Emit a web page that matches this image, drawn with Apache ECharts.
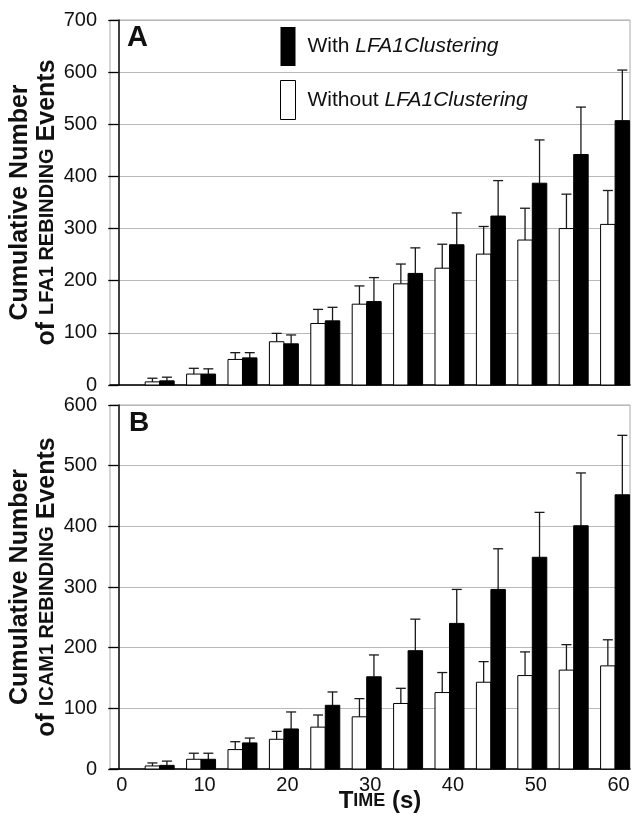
<!DOCTYPE html>
<html>
<head>
<meta charset="utf-8">
<title>Cumulative rebinding events</title>
<script src="https://cdn.jsdelivr.net/npm/echarts@6/dist/echarts.min.js"></script>
<style>
  html, body { margin: 0; padding: 0; background: #fff; }
  #chart { width: 635px; height: 824px; }
</style>
</head>
<body>
<div id="chart"></div>
<script>
// time points (s)
var times = [5, 10, 15, 20, 25, 30, 35, 40, 45, 50, 55, 60];
var xTicks = [0, 10, 20, 30, 40, 50, 60];

// panel A: LFA1 rebinding events (mean, upper error)
var aWithout = [6, 21, 49, 83, 118, 155, 194, 224, 251, 278, 300, 308];
var aWithoutErr = [7, 11, 13, 16, 27, 35, 38, 46, 53, 61, 66, 65];
var aWith = [8, 21, 52, 79, 123, 160, 214, 269, 324, 387, 442, 507];
var aWithErr = [7, 10, 10, 17, 26, 46, 49, 61, 68, 83, 91, 97];

// panel B: ICAM1 rebinding events
var bWithout = [5, 16, 32, 49, 69, 86, 108, 126, 143, 154, 163, 170];
var bWithoutErr = [5, 10, 13, 13, 20, 30, 25, 33, 34, 39, 42, 43];
var bWith = [6, 16, 43, 66, 105, 152, 195, 240, 296, 349, 401, 452];
var bWithErr = [7, 10, 8, 28, 22, 36, 52, 56, 67, 74, 87, 98];

var seriesNames = ['With LFA1Clustering', 'Without LFA1Clustering'];

var FONT = 'Liberation Sans, Arial, sans-serif';
var BAR_UNITS = 1.75; // width of one bar in seconds

function pack(vals, errs) {
  return times.map(function (t, i) { return [t, vals[i], errs[i]]; });
}

// side -1 = left of the time point, +1 = right
function barRender(side, fill) {
  return function (params, api) {
    var t = api.value(0), v = api.value(1), e = api.value(2);
    var base = api.coord([t, 0]);
    var top = api.coord([t, v]);
    var errTop = api.coord([t, v + e]);
    var w = api.size([BAR_UNITS, 0])[0];
    var x0 = side < 0 ? base[0] - w : base[0];
    var cx = x0 + w / 2;
    var errStyle = { stroke: '#1a1a1a', lineWidth: 1.3 };
    return {
      type: 'group',
      children: [
        { type: 'line', shape: { x1: cx, y1: top[1], x2: cx, y2: errTop[1] }, style: errStyle },
        { type: 'line', shape: { x1: cx - 5, y1: errTop[1], x2: cx + 5, y2: errTop[1] }, style: errStyle },
        { type: 'rect', shape: { x: x0, y: top[1], width: w, height: base[1] - top[1] },
          style: { fill: fill, stroke: '#000', lineWidth: 1 } }
      ]
    };
  };
}

function xAxisFor(idx, showLabels) {
  return {
    type: 'value', gridIndex: idx, min: -1, max: 61.8, interval: 10,
    axisLine: { show: true, onZero: false, lineStyle: { color: '#000', width: 1.5 } },
    axisTick: { show: false },
    splitLine: { show: false },
    axisLabel: {
      show: showLabels, fontFamily: FONT, fontSize: 20, color: '#111', margin: 6,
      padding: [0, 0, 0, 7],
      customValues: xTicks
    },
    name: showLabels ? '{a|T}{b|IME}{a| (s)}' : '',
    nameLocation: 'middle', nameGap: 19, nameMoveOverlap: false,
    nameTextStyle: {
      padding: [0, 0, 0, 20],
      rich: {
        a: { fontFamily: FONT, fontSize: 24, fontWeight: 'bold', color: '#111', lineHeight: 26 },
        b: { fontFamily: FONT, fontSize: 18, fontWeight: 'bold', color: '#111', lineHeight: 26 }
      }
    }
  };
}

function yAxisFor(idx, max, molecule) {
  return {
    type: 'value', gridIndex: idx, min: 0, max: max, interval: 100,
    axisLine: { show: true, lineStyle: { color: '#000', width: 1.5 } },
    axisTick: { show: true, length: 10, lineStyle: { color: '#000', width: 1.3 } },
    splitLine: { show: true, lineStyle: { color: '#b9b9b9', width: 1 } },
    axisLabel: { fontFamily: FONT, fontSize: 20, color: '#111', margin: 13 },
    name: '{c|Cumulative Number}\n{c|of }{s|' + molecule + ' REBINDING}{c| Events}',
    nameLocation: 'middle', nameGap: 49, nameMoveOverlap: false,
    nameTextStyle: {
      rich: {
        c: { fontFamily: FONT, fontSize: 25, fontWeight: 'bold', color: '#111', lineHeight: 27 },
        s: { fontFamily: FONT, fontSize: 20, fontWeight: 'bold', color: '#111', lineHeight: 27 }
      }
    }
  };
}

var chart = echarts.init(document.getElementById('chart'));
var option = {
  animation: false,
  backgroundColor: '#fff',
  title: [
    { text: 'A', left: 127, top: 23, padding: 0,
      textStyle: { fontFamily: FONT, fontSize: 29, fontWeight: 'bold', color: '#111' } },
    { text: 'B', left: 129, top: 409, padding: 0,
      textStyle: { fontFamily: FONT, fontSize: 28, fontWeight: 'bold', color: '#111' } }
  ],
  legend: {
    orient: 'vertical', left: 280, top: 27, padding: 0,
    itemWidth: 15, itemHeight: 39, itemGap: 14,
    selectedMode: false,
    data: [
      { name: seriesNames[0], icon: 'rect', itemStyle: { color: '#000', borderWidth: 0 } },
      { name: seriesNames[1], icon: 'rect', itemStyle: { color: '#fff', borderColor: '#000', borderWidth: 1 } }
    ],
    formatter: function (name) {
      var parts = name.split(' ');
      return '{n|' + parts[0] + ' }{i|' + parts[1] + '}';
    },
    textStyle: {
      padding: [0, 0, 0, 7],
      rich: {
        n: { fontFamily: FONT, fontSize: 21, color: '#111' },
        i: { fontFamily: FONT, fontSize: 21, fontStyle: 'italic', color: '#111' }
      }
    }
  },
  grid: [
    { left: 110, right: 5, top: 20, height: 365, show: true, borderColor: '#aaa', borderWidth: 1,
      outerBoundsMode: 'none' },
    { left: 110, right: 5, top: 405, height: 364, show: true, borderColor: '#aaa', borderWidth: 1,
      outerBoundsMode: 'none' }
  ],
  xAxis: [xAxisFor(0, false), xAxisFor(1, true)],
  yAxis: [yAxisFor(0, 700, 'LFA1'), yAxisFor(1, 600, 'ICAM1')],
  series: [
    { name: seriesNames[1], type: 'custom', xAxisIndex: 0, yAxisIndex: 0,
      renderItem: barRender(-1, '#fff'), encode: { x: 0, y: 1 }, data: pack(aWithout, aWithoutErr) },
    { name: seriesNames[0], type: 'custom', xAxisIndex: 0, yAxisIndex: 0,
      renderItem: barRender(1, '#000'), encode: { x: 0, y: 1 }, data: pack(aWith, aWithErr) },
    { name: seriesNames[1], type: 'custom', xAxisIndex: 1, yAxisIndex: 1,
      renderItem: barRender(-1, '#fff'), encode: { x: 0, y: 1 }, data: pack(bWithout, bWithoutErr) },
    { name: seriesNames[0], type: 'custom', xAxisIndex: 1, yAxisIndex: 1,
      renderItem: barRender(1, '#000'), encode: { x: 0, y: 1 }, data: pack(bWith, bWithErr) }
  ]
};
chart.setOption(option);
</script>
</body>
</html>
